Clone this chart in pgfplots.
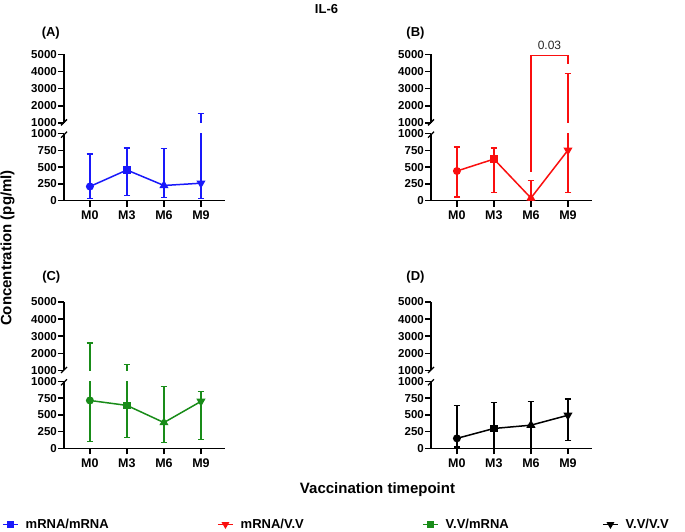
\documentclass[border=0pt]{standalone}
\usepackage{fontspec}
\setmainfont{Liberation Sans}
\usepackage{pgfplots}
\usepackage{pgfplotstable}
\pgfplotsset{compat=1.18}
\definecolor{cA}{RGB}{25,25,250}
\definecolor{cB}{RGB}{250,15,15}
\definecolor{cC}{RGB}{25,140,25}
\definecolor{cD}{RGB}{0,0,0}

\pgfdeclareplotmark{tridown}{%
  \pgfpathmoveto{\pgfqpointpolar{270}{\pgfplotmarksize}}%
  \pgfpathlineto{\pgfqpointpolar{30}{\pgfplotmarksize}}%
  \pgfpathlineto{\pgfqpointpolar{150}{\pgfplotmarksize}}%
  \pgfpathclose
  \pgfusepathqfillstroke}

\pgfplotstableread{
x y ep em cls
0 212 483 177 a
1 458 330 384 b
2 227 551 177 c
3 261 1299 231 d
}\tA
\pgfplotstableread{
x y ep em cls
0 443 360 389 a
1 621 167 498 b
2 40 260 40 c
3 754 3142 631 d
}\tB
\pgfplotstableread{
x y ep em cls
0 714 1898 615 a
1 640 698 482 b
2 384 537 300 c
3 700 147 567 d
}\tC
\pgfplotstableread{
x y ep em cls
0 148 492 128 a
1 296 384 296 b
2 345 355 345 c
3 493 246 380 d
}\tD

\pgfplotsset{
  brk/.style={scale only axis, width=161pt, xmin=-0.7, xmax=3.65,
    axis lines*=left, tick align=outside, major tick length=6pt,
    axis line style={line width=1.5pt, black},
    every tick/.style={line width=1.5pt, black},
    yticklabel style={font=\bfseries\fontsize{11.5}{12}\selectfont, inner sep=1pt},
    anchor=south west},
  lowerax/.style={brk, height=67pt, ymin=0, ymax=1000,
    ytick={0,250,500,750,1000}, yticklabels={0,250,500,750,1000},
    xtick={0,1,2,3}, xticklabels={M0,M3,M6,M9},
    xticklabel style={font=\bfseries\fontsize{12.5}{13}\selectfont, inner sep=2pt, yshift=-2pt}},
  upperax/.style={brk, height=68.5pt, ymin=1000, ymax=5000,
    ytick={1000,2000,3000,4000,5000}, yticklabels={1000,2000,3000,4000,5000},
    hide x axis},
  series/.style={color=#1, line width=1.5pt, scatter, point meta=explicit symbolic,
    scatter/classes={
      a={mark=*, #1, mark size=3.2pt},
      b={mark=square*, #1, mark size=3pt},
      c={mark=triangle*, #1, mark size=3.8pt},
      d={mark=tridown, #1, mark size=3.8pt}},
    error bars/.cd, y dir=both, y explicit,
    error bar style={line width=1.5pt, #1},
    error mark options={rotate=90, #1, line width=1.5pt, mark size=3.3pt}},
}

\newcommand{\panel}[4]{%
\begin{axis}[lowerax, at={(#1pt,#2pt)}]
\addplot[series=#4] table[x=x, y=y, y error plus=ep, y error minus=em, meta=cls]{#3};
\end{axis}
\begin{axis}[upperax, at={(#1pt,#2pt+77.8pt)}]
\addplot[series=#4] table[x=x, y=y, y error plus=ep, y error minus=em, meta=cls]{#3};
\end{axis}
\draw[line width=1.3pt] ({#1-3},{#2+63}) -- ({#1+3},{#2+69});
\draw[line width=1.3pt] ({#1-3},{#2+75.3}) -- ({#1+3},{#2+81.3});
}

\newcommand{\legitem}[4]{%
\begin{axis}[at={(#1pt,7.5pt)}, anchor=west, scale only axis, width=1pt, height=1pt,
  hide axis, xmin=0, xmax=1, ymin=0, ymax=1,
  legend style={at={(0,0.5)}, anchor=west, draw=none, fill=none, inner sep=0pt,
    font=\bfseries\fontsize{13}{14}\selectfont},
  legend image code/.code={\draw[mark repeat=2, mark phase=2, ##1] plot coordinates {(0pt,0pt) (7.5pt,0pt) (15pt,0pt)};}]
\addlegendimage{#2, line width=1.5pt, #3}
\addlegendentry{\hspace*{5pt}#4}
\end{axis}}

\begin{document}
\begin{tikzpicture}[x=1pt, y=1pt]
\useasboundingbox (0,0) rectangle (685,532);

\panel{64}{331.3}{\tA}{cA}
\panel{431}{331.3}{\tB}{cB}
\panel{64}{83.7}{\tC}{cC}
\panel{431}{83.7}{\tD}{cD}

% significance bracket in panel B
\begin{axis}[upperax, hide axis, clip=false, at={(431pt,409.1pt)}]
\addplot[cB, line width=1.3pt] coordinates {(2,-1850) (2,4924) (3,4924) (3,4439)};
\node[font=\fontsize{12}{13}\selectfont, text=black!85] at (axis cs:2.5,5549) {0.03};
\end{axis}

\node[font=\bfseries\fontsize{13}{14}\selectfont] at (326.5,523) {IL-6};
\node[font=\bfseries\fontsize{13}{14}\selectfont] at (50.8,498.7) {(A)};
\node[font=\bfseries\fontsize{13}{14}\selectfont] at (415.5,498.7) {(B)};
\node[font=\bfseries\fontsize{13}{14}\selectfont] at (51.3,255.3) {(C)};
\node[font=\bfseries\fontsize{13}{14}\selectfont] at (415.5,255.3) {(D)};
\node[font=\bfseries\fontsize{15}{16}\selectfont, rotate=90] at (7.5,284) {Concentration (pg/ml)};
\node[font=\bfseries\fontsize{15}{16}\selectfont] at (377.5,42) {Vaccination timepoint};

\legitem{2}{cA}{mark=square*, mark size=2.5pt}{mRNA/mRNA}
\legitem{217}{cB}{mark=tridown, mark size=3pt}{mRNA/V.V}
\legitem{422}{cC}{mark=square*, mark size=2.5pt}{V.V/mRNA}
\legitem{602}{cD}{mark=tridown, mark size=3pt}{V.V/V.V}
\end{tikzpicture}
\end{document}
